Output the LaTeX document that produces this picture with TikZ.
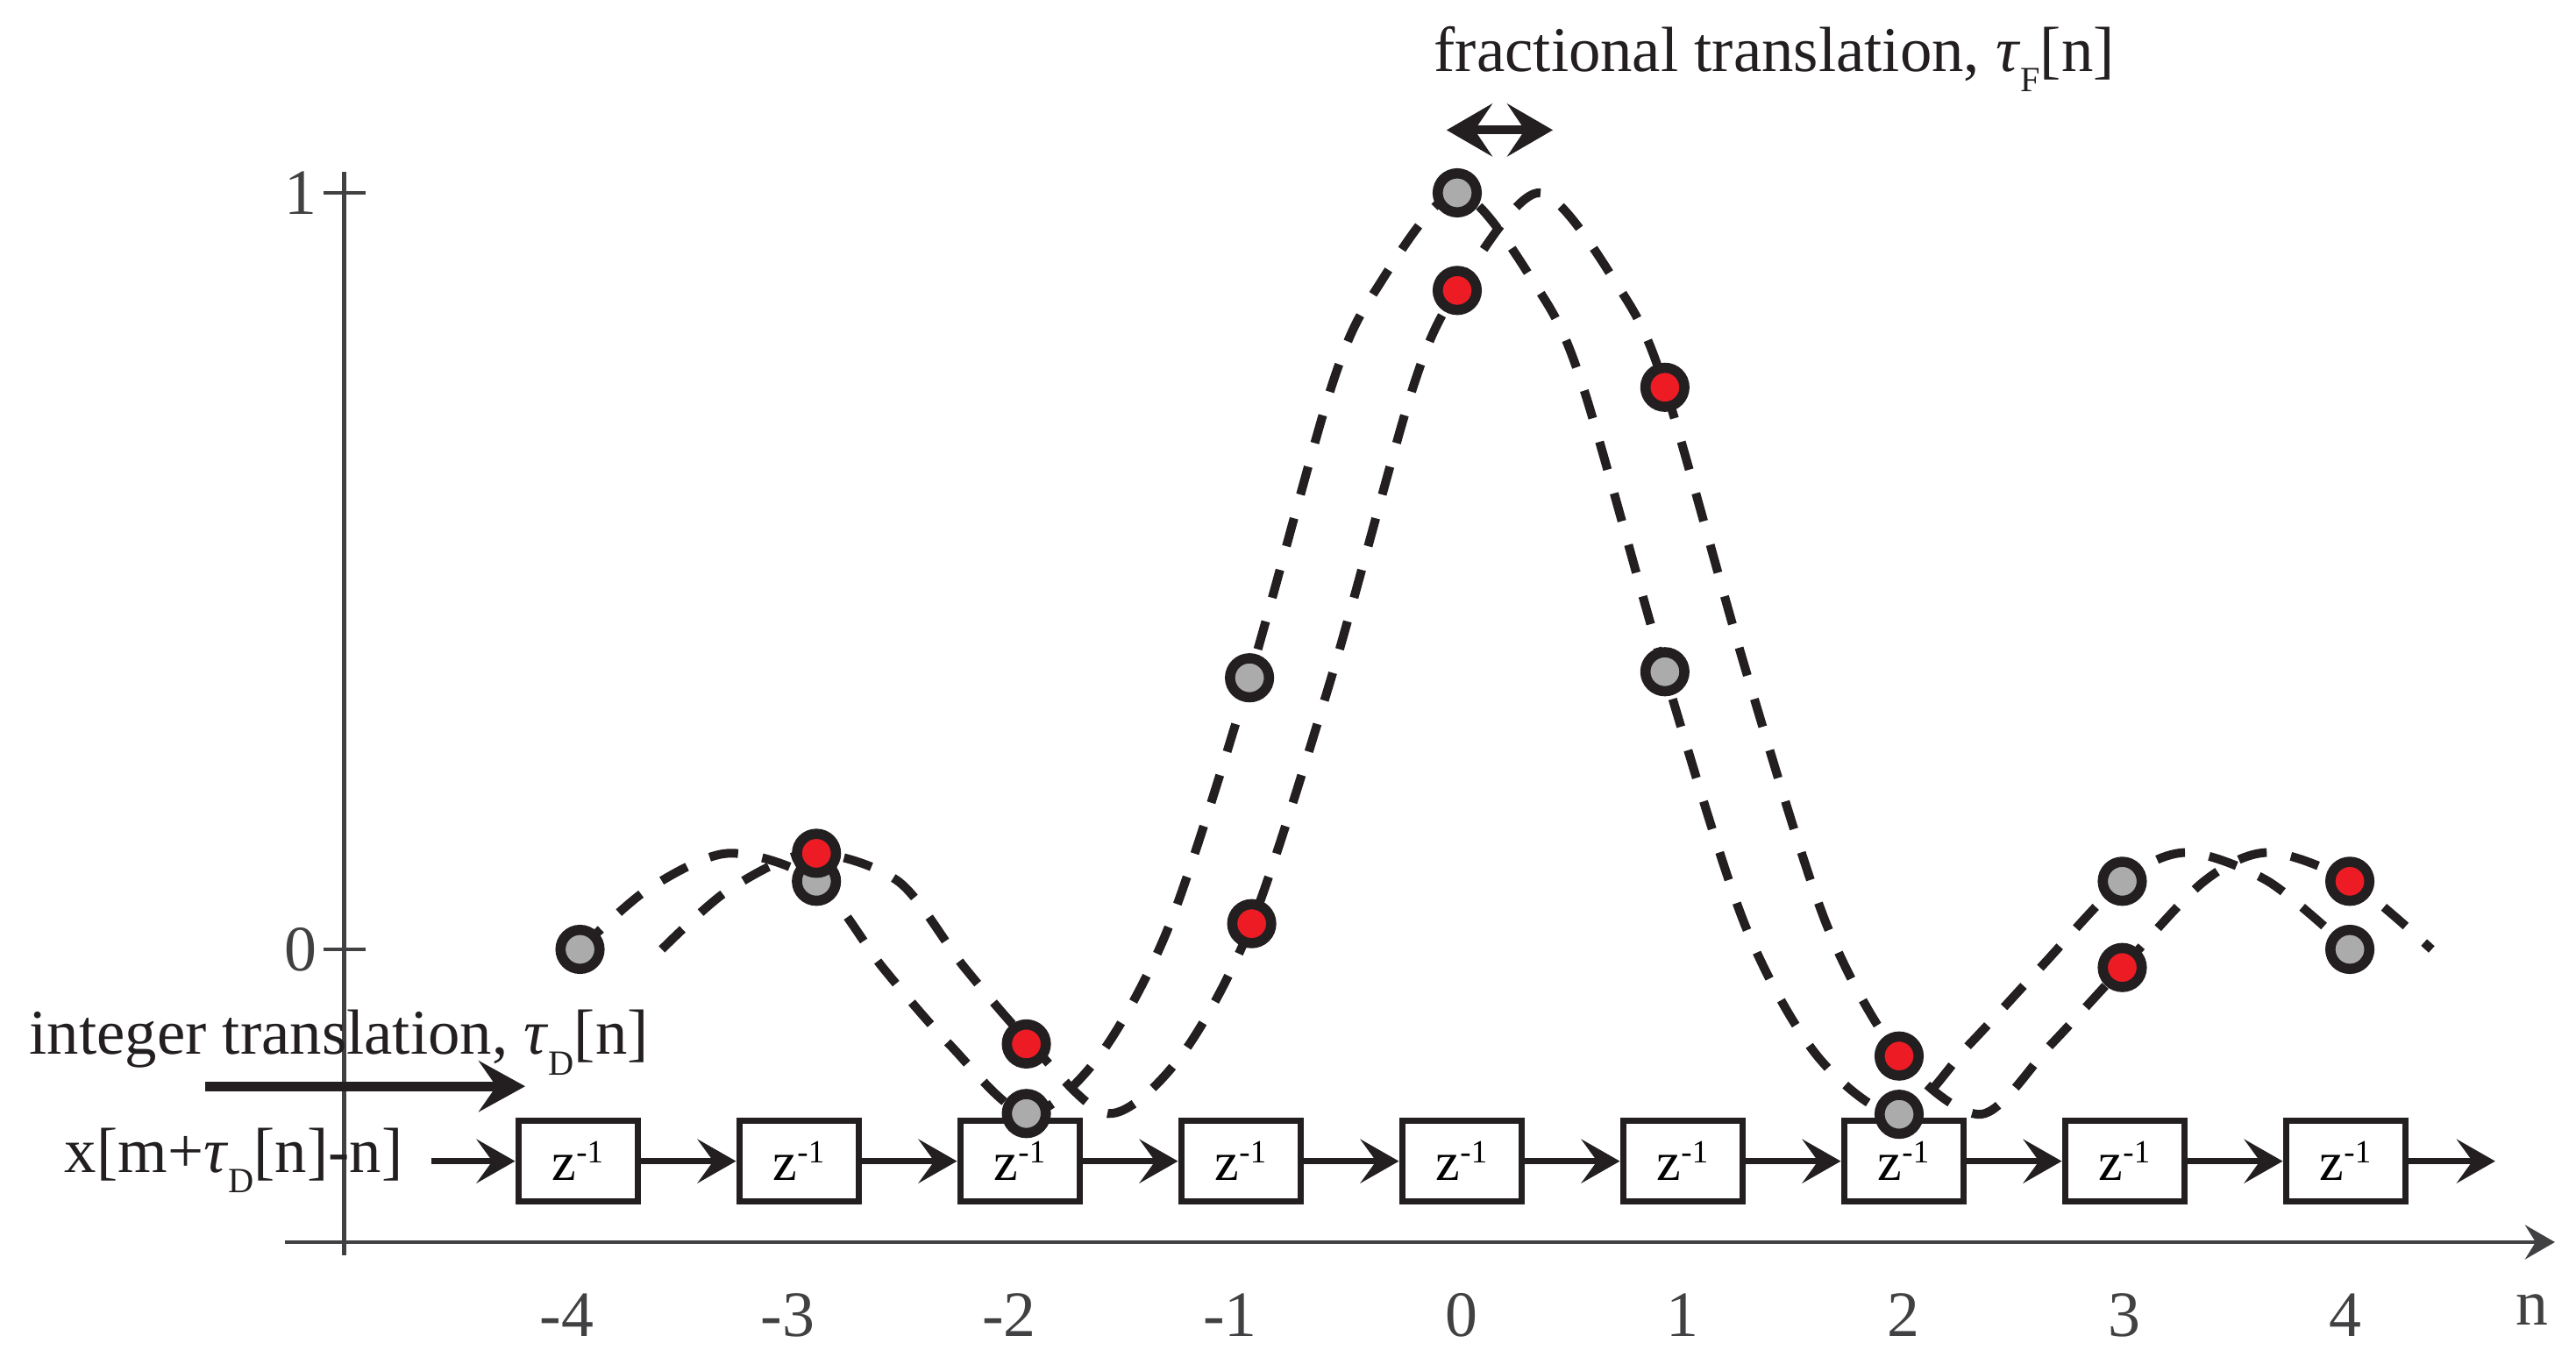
\documentclass[tikz,border=0pt]{standalone}
\usepackage{fontspec}
\setmainfont{Liberation Serif}
\usetikzlibrary{arrows.meta}
\definecolor{ink}{HTML}{231F20}
\definecolor{axisgray}{HTML}{414042}
\definecolor{dotred}{HTML}{ED1C24}
\definecolor{dotgray}{HTML}{ABABAB}
\newcommand\tausub[1]{\textit{τ}\raisebox{-0.32em}{\fontsize{11.5}{11.5}\selectfont #1}}
\newcommand\zinv{z\raisebox{0.32em}{\fontsize{10.5}{10.5}\selectfont -1}}
\begin{document}
\begin{tikzpicture}[x=2.52cm,y=8.63cm,
    axisline/.style={draw=axisgray,line width=1.4pt},
    ticklabel/.style={text=axisgray,font=\fontsize{21}{21}\selectfont,inner sep=0pt},
    note/.style={text=ink,font=\fontsize{20.7}{22}\selectfont,inner sep=0pt},
    zbox/.style={draw=ink,fill=white,line width=2pt,minimum width=1.36cm,minimum height=0.92cm,inner sep=0pt,font=\fontsize{17.7}{18}\selectfont},
    zarrow/.style={draw=ink,line width=1.9pt,-{Stealth[length=4.4mm,width=5mm,inset=1.8mm]}},
    wave/.style={draw=ink,line width=2.85pt,dash pattern=on 3.3mm off 2.8mm},
    sample/.style={circle,draw=ink,line width=3.3pt,minimum size=4.45mm,inner sep=0pt}]
    \useasboundingbox (-16.62cm,-4.72cm) rectangle (12.76cm,10.83cm);
    \coordinate (xa0) at (-5.306,-0.387);
    \coordinate (xa1) at (4.968,-0.387);
    \coordinate (ya0) at (-5.036,-0.404);
    \coordinate (ya1) at (-5.036,1.028);
    \draw[axisline,-{Stealth[length=3.4mm,width=3.9mm,inset=1.2mm]}] (xa0) -- (xa1);
    \draw[axisline] (ya0) -- (ya1);
    \foreach \v in {0,1}{
        \draw[axisline] (-5.131,\v) -- (-4.941,\v);
        \node[ticklabel,anchor=east] (t\v) at (-5.16,\v) {\v};
    }
    \foreach \s in {0,0.37}
        \draw[wave,xshift=\s*2.52cm] plot[smooth] coordinates {(-3.97,0) (-3.67,0.078) (-3.30,0.127)
            (-2.90,0.090) (-2.60,-0.024) (-2.30,-0.125) (-1.95,-0.217) (-1.62,-0.141) (-1.30,0.034)
            (-0.94,0.359) (-0.57,0.743) (-0.37,0.871) (0,1) (0.37,0.871) (0.57,0.743) (0.94,0.365)
            (1.30,0.034) (1.63,-0.141) (2.0,-0.218) (2.32,-0.125) (2.64,-0.024) (3.01,0.09)
            (3.30,0.128) (3.67,0.09) (4.04,0)};
    \foreach \n [count=\i] in {-4,...,4}{
        \pgfmathtruncatemacro\a{abs(\n)}
        \node[zbox] (z\i) at (\n+0.02,-0.28) {\zinv};
        \node[ticklabel,anchor=base] (k\i) at (\n+0.02,-0.512) {\ifnum\n<0 \llap{-}\fi\a};
    }
    \foreach \i [count=\j from 2] in {1,...,8}
        \draw[zarrow] (z\i) -- (z\j);
    \node[ticklabel,anchor=base] (nlab) at (4.865,-0.497) {n};
    \node[note,anchor=base east] (xin) at (-4.77,-0.295) {x[m+\tausub{D}[n]-n]};
    \coordinate (xs) at (-4.643,-0.28);
    \coordinate (xe) at (4.698,-0.28);
    \draw[zarrow] (xs) -- (z1);
    \draw[zarrow] (z9) -- (xe);
    \foreach \x/\y [count=\i] in {-3.97/0,-2.90/0.090,-1.95/-0.217,-0.94/0.359,0/1,0.94/0.367,2.0/-0.218,3.01/0.090,4.04/0}
        \node[sample,fill=dotgray] (g\i) at (\x,\y) {};
    \foreach \x/\y [count=\i] in {-2.90/0.127,-1.95/-0.125,-0.93/0.034,0/0.871,0.94/0.743,2.0/-0.141,3.01/-0.024,4.04/0.090}
        \node[sample,fill=dotred] (r\i) at (\x,\y) {};
    \node[note,anchor=base west] (intlab) at (-6.464,-0.139) {integer translation, \tausub{D}[n]};
    \coordinate (ia) at (-5.667,-0.181);
    \coordinate (ib) at (-4.218,-0.181);
    \draw[draw=ink,line width=3.1pt,-{Stealth[length=5.3mm,width=5.8mm,inset=2mm]}] (ia) -- (ib);
    \node[note,anchor=base west] (fraclab) at (-0.107,1.161) {fractional translation, \tausub{F}[n]};
    \coordinate (fa) at (-0.048,1.083);
    \coordinate (fb) at (0.433,1.083);
    \draw[draw=ink,line width=2.85pt,{Stealth[length=5.2mm,width=6mm,inset=2mm]}-{Stealth[length=5.2mm,width=6mm,inset=2mm]}] (fa) -- (fb);
\end{tikzpicture}
\end{document}
